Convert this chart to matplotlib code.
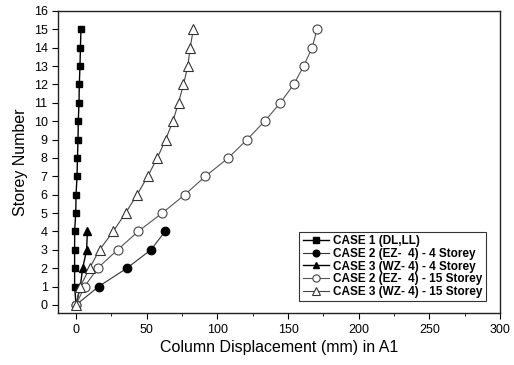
import matplotlib
matplotlib.use("Agg")
import matplotlib.pyplot as plt
from matplotlib.ticker import MultipleLocator

plt.rcParams['font.family'] = ['Liberation Sans', 'DejaVu Sans']

storey15 = list(range(16))
storey4 = list(range(5))
case1 = [0, -1, -1, -1, -1, -0.2, 0, 0.7, 1.0, 1.4, 1.6, 2.1, 2.3, 2.8, 3.1, 3.5]
case2_4 = [0, 16, 36, 53, 63]
case3_4 = [0, 3, 4.7, 7.5, 8]
case2_15 = [0, 6, 15.3, 29.4, 44, 61, 77, 91.5, 107.7, 121, 133.5, 144.5, 154, 161, 167, 170.5]
case3_15 = [0, 3, 9.6, 16.6, 26.3, 35, 43.2, 50.7, 57.5, 63.4, 68.5, 72.5, 76, 79.1, 80.7, 83]
labels = ["CASE 1 (DL,LL)", "CASE 2 (EZ-  4) - 4 Storey", "CASE 3 (WZ- 4) - 4 Storey",
          "CASE 2 (EZ-  4) - 15 Storey", "CASE 3 (WZ- 4) - 15 Storey"]

fig = plt.figure(figsize=(5.14, 3.65), dpi=100)
ax = fig.add_axes([0.113, 0.142, 0.86, 0.828])

ax.plot(case1, storey15, color='black', lw=1.0, marker='s', ms=5, mfc='black', mec='black', label=labels[0])
ax.plot(case2_4, storey4, color='#333333', lw=0.8, marker='o', ms=6, mfc='black', mec='black', label=labels[1])
ax.plot(case3_4, storey4, color='black', lw=1.0, marker='^', ms=6, mfc='black', mec='black', label=labels[2])
ax.plot(case2_15, storey15, color='#555555', lw=0.8, marker='o', ms=6.5, mfc='white', mec='#444444', mew=0.8, label=labels[3])
ax.plot(case3_15, storey15, color='#444444', lw=0.8, marker='^', ms=7, mfc='white', mec='#333333', mew=0.8, label=labels[4])

ax.set_xlim(-12.7, 300)
ax.set_ylim(-0.45, 16)
ax.xaxis.set_major_locator(MultipleLocator(50))
ax.xaxis.set_minor_locator(MultipleLocator(25))
ax.yaxis.set_major_locator(MultipleLocator(1))
ax.tick_params(axis='both', which='both', direction='out', top=False, right=False, labelsize=9)
ax.tick_params(axis='both', which='major', length=4)
ax.tick_params(axis='x', which='minor', length=2.5)
for s in ax.spines.values():
    s.set_linewidth(1.0)
    s.set_color('#222222')

ax.set_xlabel("Column Displacement (mm) in A1", fontsize=11.5, labelpad=3)
ax.set_ylabel("Storey Number", fontsize=11.5, labelpad=4)

leg = ax.legend(loc='lower right', bbox_to_anchor=(0.982, 0.02), fontsize=8.5, frameon=True,
                fancybox=False, edgecolor='black', handlelength=2.2, handletextpad=0.4,
                labelspacing=0.05, borderpad=0.3, markerscale=0.8)
leg.get_frame().set_linewidth(0.8)
for t in leg.get_texts():
    t.set_fontweight('bold')

fig.savefig("out.png", dpi=100)
